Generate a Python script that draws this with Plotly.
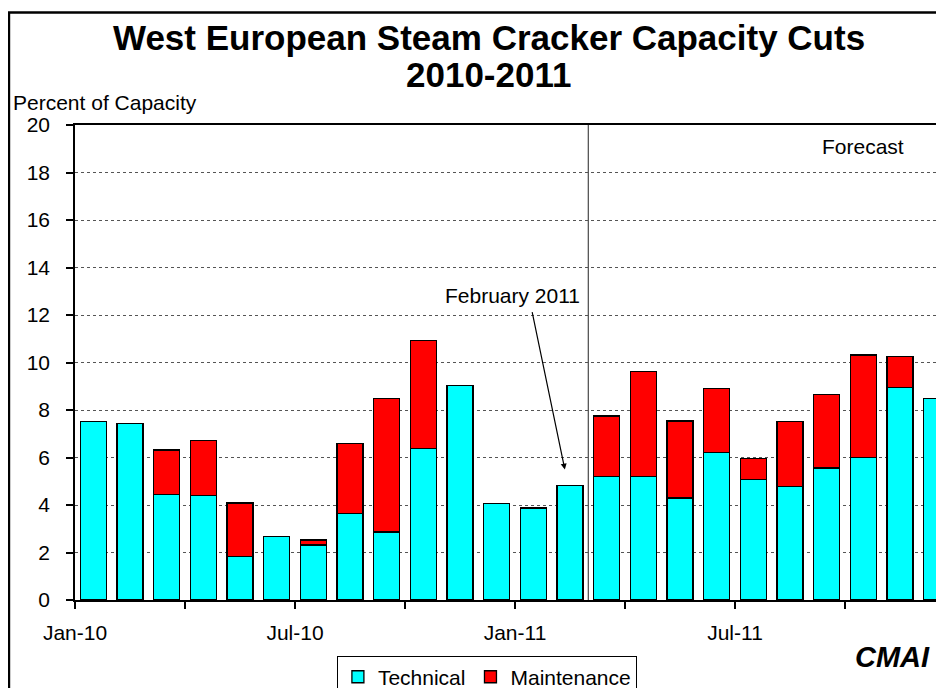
import plotly.graph_objects as go

# ---- data ----
months = ["Jan-10", "Feb-10", "Mar-10", "Apr-10", "May-10", "Jun-10",
          "Jul-10", "Aug-10", "Sep-10", "Oct-10", "Nov-10", "Dec-10",
          "Jan-11", "Feb-11", "Mar-11", "Apr-11", "May-11", "Jun-11",
          "Jul-11", "Aug-11", "Sep-11", "Oct-11", "Nov-11", "Dec-11"]
technical = [7.52, 7.43, 4.43, 4.39, 1.83, 2.66, 2.32, 3.63, 2.86, 6.37, 9.03, 4.05,
             3.88, 4.83, 5.21, 5.19, 4.30, 6.20, 5.06, 4.79, 5.56, 5.99, 8.96, 8.47]
maintenance = [None, None, 1.89, 2.34, 2.26, None, 0.21, 2.96, 5.61, 4.56, None, None,
               None, None, 2.54, 4.44, 3.24, 2.72, 0.91, 2.73, 3.09, 4.33, 1.28, None]
tick_labels = ["Jan-10", "", "Jul-10", "", "Jan-11", "", "Jul-11", ""]

idx = list(range(len(months)))
tickvals = [i - 0.5 for i in range(0, len(months), 3)]

FONT = "Arial, Liberation Sans, sans-serif"

fig = go.Figure()
fig.add_trace(go.Bar(x=idx, y=technical, name="Technical", customdata=months,
                     marker=dict(color="#00FFFF", line=dict(color="black", width=1.3))))
fig.add_trace(go.Bar(x=idx, y=maintenance, name="Maintenance", customdata=months,
                     marker=dict(color="#FF0000", line=dict(color="black", width=1.3))))

fig.update_layout(
    width=936, height=680,
    barmode="stack", bargap=0.29,
    plot_bgcolor="white", paper_bgcolor="white",
    font=dict(family=FONT, size=21, color="black"),
    margin=dict(l=67, r=0, t=117, b=88, autoexpand=False),
    showlegend=True,
    legend=dict(orientation="h", x=0.474, xanchor="center", y=-0.117, yanchor="top",
                bordercolor="black", borderwidth=1, font=dict(size=21),
                itemwidth=30, tracegroupgap=0, traceorder="normal"),
)

fig.update_xaxes(
    range=[-0.5, 23.2], tickmode="array", tickvals=tickvals, ticktext=tick_labels,
    ticks="outside", ticklen=7, tickcolor="black", tickwidth=1.5,
    showline=True, linecolor="black", linewidth=1.5, mirror=True,
    showgrid=False, zeroline=False, ticklabelstandoff=6,
    tickfont=dict(size=21),
)
fig.update_yaxes(
    range=[0, 20], dtick=2, ticks="outside", ticklen=7, tickcolor="black", tickwidth=1.5,
    showline=True, linecolor="black", linewidth=1.5,
    showgrid=True, gridcolor="#555555", griddash="dot", gridwidth=1,
    zeroline=False, ticklabelstandoff=12, tickfont=dict(size=21),
)

# forecast divider
fig.add_shape(type="line", xref="x", yref="y", x0=13.5, x1=13.5, y0=0, y1=20,
              line=dict(color="#555555", width=1.3))
# outer frame
fig.add_shape(type="rect", xref="paper", yref="paper", x0=-0.076, x1=1.1, y0=-0.4, y1=1.237,
              line=dict(color="black", width=2.5), layer="above")

annots = [
    dict(text="<b>West European Steam Cracker Capacity Cuts</b>", xref="paper", yref="paper",
         x=0.4764, y=1.184, showarrow=False, font=dict(size=35), xanchor="center", yanchor="middle"),
    dict(text="<b>2010-2011</b>", xref="paper", yref="paper",
         x=0.4764, y=1.106, showarrow=False, font=dict(size=35), xanchor="center", yanchor="middle"),
    dict(text="Percent of Capacity", xref="paper", yref="paper", x=-0.074, y=1.047,
         showarrow=False, xanchor="left", yanchor="middle", font=dict(size=21)),
    dict(text="Forecast", xref="x", yref="y", x=21, y=19.1, showarrow=False,
         xanchor="center", yanchor="middle", font=dict(size=21)),
    dict(text="February 2011", xref="x", yref="y", x=(513 - 75) / 36.67 - 0.5, y=(600 - 295) / 23.75,
         showarrow=False, xanchor="center", yanchor="middle", font=dict(size=21)),
    dict(text="", xref="x", yref="y", x=12.86, y=5.49, showarrow=True, arrowhead=2,
         arrowsize=1, arrowwidth=1.2, arrowcolor="black", ax=-33, ay=-159),
    dict(text="<b><i>CMAI</i></b>", xref="paper", yref="paper", x=0.941, y=-0.121,
         showarrow=False, xanchor="center", yanchor="middle", font=dict(size=29)),
]
fig.update_layout(annotations=annots)

fig.write_html("out.html")
